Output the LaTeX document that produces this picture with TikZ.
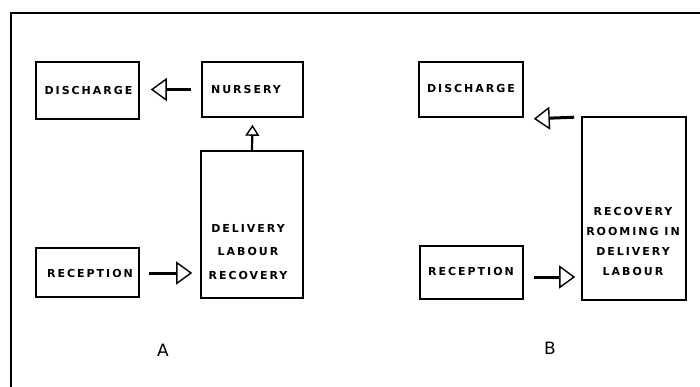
\documentclass[tikz,border=0pt]{standalone}
\usepackage{fontspec}
\setmainfont{DejaVu Sans}
\newfontfamily\lettering[LetterSpace=18]{DejaVu Sans}
\usetikzlibrary{arrows.meta,calc}
\tikzset{
  box/.style={draw=black, line width=1.6pt, inner sep=0pt},
  lbl/.style={font={\lettering\bfseries\fontsize{11}{13}\selectfont}, align=center, inner sep=0pt},
  biglbl/.style={font={\fontsize{17}{20}\selectfont}, inner sep=0pt},
  flow/.style={line width=3pt, -{Triangle[open, length=16pt, width=23pt, line width=1.4pt]}},
  flowup/.style={line width=2.2pt, -{Triangle[open, length=11pt, width=14pt, line width=1.4pt]}},
  frameline/.style={line width=1.8pt}
}
\begin{document}
\begin{tikzpicture}[x=1pt, y=-1pt]
\useasboundingbox (0,0) rectangle (700,387);
% frame
\coordinate (fa) at (700,13);
\coordinate (fb) at (11,13);
\coordinate (fc) at (11,387);
\draw[frameline] (fa) -- (fb) -- (fc);

% ---- panel A
\node[box, minimum width=103pt, minimum height=57pt] (disA) at (87.5,90.5) {};
\node[lbl] (disAt) at (88.5,90.5) {DISCHARGE};
\node[box, minimum width=101pt, minimum height=55pt] (nurA) at (252.5,89.5) {};
\node[lbl] (nurAt) at (246,89.5) {NURSERY};
\node[box, minimum width=102pt, minimum height=147pt] (dlrA) at (252,224.5) {};
\node[lbl, font={\lettering\bfseries\fontsize{11}{23.5}\selectfont}] (dlrAt) at (248,252) {DELIVERY\\LABOUR\\RECOVERY};
\node[box, minimum width=103pt, minimum height=49pt] (recA) at (87.5,272.5) {};
\node[lbl] (recAt) at (90,273) {RECEPTION};

\draw[flow] ($(nurA.west)+(-10,0)$) -- ($(disA.east)+(11,-1)$);
\draw[flowup] (dlrA.north) -- ($(nurA.south)+(0,7)$);
\draw[flow] ($(recA.east)+(9,0.5)$) -- ($(dlrA.west)+(-8,48.5)$);

\node[biglbl] (labA) at (163,350) {A};

% ---- panel B
\node[box, minimum width=104pt, minimum height=55pt] (disB) at (471,89.5) {};
\node[lbl] (disBt) at (471,88) {DISCHARGE};
\node[box, minimum width=104pt, minimum height=183pt] (dlrB) at (634,208.5) {};
\node[lbl, font={\lettering\bfseries\fontsize{11}{20}\selectfont}] (dlrBt) at (633,241) {RECOVERY\\ROOMING IN\\DELIVERY\\LABOUR};
\node[box, minimum width=103pt, minimum height=53pt] (recB) at (471.5,272.5) {};
\node[lbl] (recBt) at (471,271) {RECEPTION};

\draw[flow] ($(dlrB.north west)+(-7,1)$) -- ($(disB.south east)+(10,1)$);
\draw[flow] ($(recB.east)+(10,4.5)$) -- ($(dlrB.west)+(-6,68.5)$);

\node[biglbl] (labB) at (550,348) {B};
\end{tikzpicture}
\end{document}
